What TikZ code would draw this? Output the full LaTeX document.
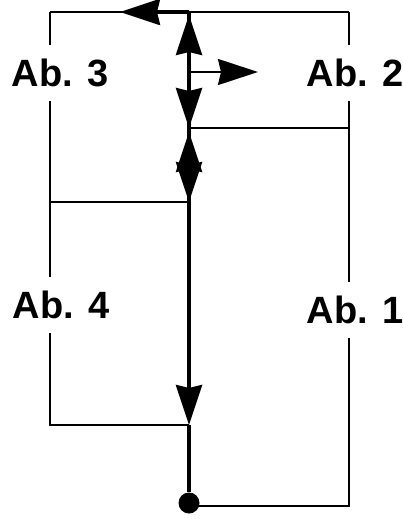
\documentclass[tikz,border=0pt]{standalone}
\usepackage{fontspec}
\setmainfont{Liberation Sans}
\usetikzlibrary{arrows.meta,calc}

\begin{document}
\begin{tikzpicture}[x=1pt,y=-1pt,>={Stealth[length=40pt,width=26pt,inset=3pt]}]
  \useasboundingbox (0,0) rectangle (403,519);
  \tikzset{thinline/.style={line width=1.6pt},
    mainline/.style={line width=3.4pt},
    lab/.style={font=\fontsize{38}{44}\selectfont\bfseries,inner xsep=0pt,inner ysep=14pt}}
  % corners and junctions
  \coordinate (tl) at (50,12);
  \coordinate (tm) at (189,12);
  \coordinate (tr) at (349,12);
  \coordinate (j2) at (189,128);
  \coordinate (r2) at (349,128);
  \coordinate (j3) at (189,202);
  \coordinate (l3) at (50,202);
  \coordinate (j4) at (189,425);
  \coordinate (l4) at (50,425);
  \coordinate (br) at (349,506);
  \coordinate (a3) at (120,12);
  \coordinate (a2s) at (189,72);
  \coordinate (a2e) at (258,72);
  \node[circle,fill,inner sep=0pt,minimum size=21pt] (bot) at (189,503) {};
  % labels
  \node[lab] (ab3) at (60,73) {Ab. 3};
  \node[lab] (ab2) at (355,73) {Ab. 2};
  \node[lab] (ab4) at (61,305) {Ab. 4};
  \node[lab] (ab1) at (355,310) {Ab. 1};
  % frame
  \draw[line width=1.8pt] (tl) -- (tr);
  \draw[thinline] (tl) -- (ab3.north -| tl);
  \draw[thinline] (ab3.south -| tl) -- (ab4.north -| tl);
  \draw[thinline] (ab4.south -| tl) -- (l4) -- (j4);
  \draw[thinline] (l3) -- (j3);
  \draw[line width=2.2pt] (tr) -- (ab2.north -| tr);
  \draw[line width=2.2pt] (ab2.south -| tr) -- (ab1.north -| tr);
  \draw[line width=2.2pt] (ab1.south -| tr) -- (br) -- (br -| bot);
  \draw[line width=2.4pt] (j2) -- (r2);
  % main line and arrows
  \draw[mainline,->,shorten >=3pt] (j2) -- (tm);
  \draw[mainline,->] (tm) -- (j2);
  \draw[mainline,->,shorten >=4pt] (j3) -- (j2);
  \draw[mainline,->] (j2) -- (j3);
  \draw[mainline,->] (j3) -- (j4);
  \draw[mainline] (j4) -- (bot);
  \draw[mainline,->] (tm) -- (a3);
  \draw[line width=2pt,->] (a2s) -- (a2e);
\end{tikzpicture}
\end{document}
